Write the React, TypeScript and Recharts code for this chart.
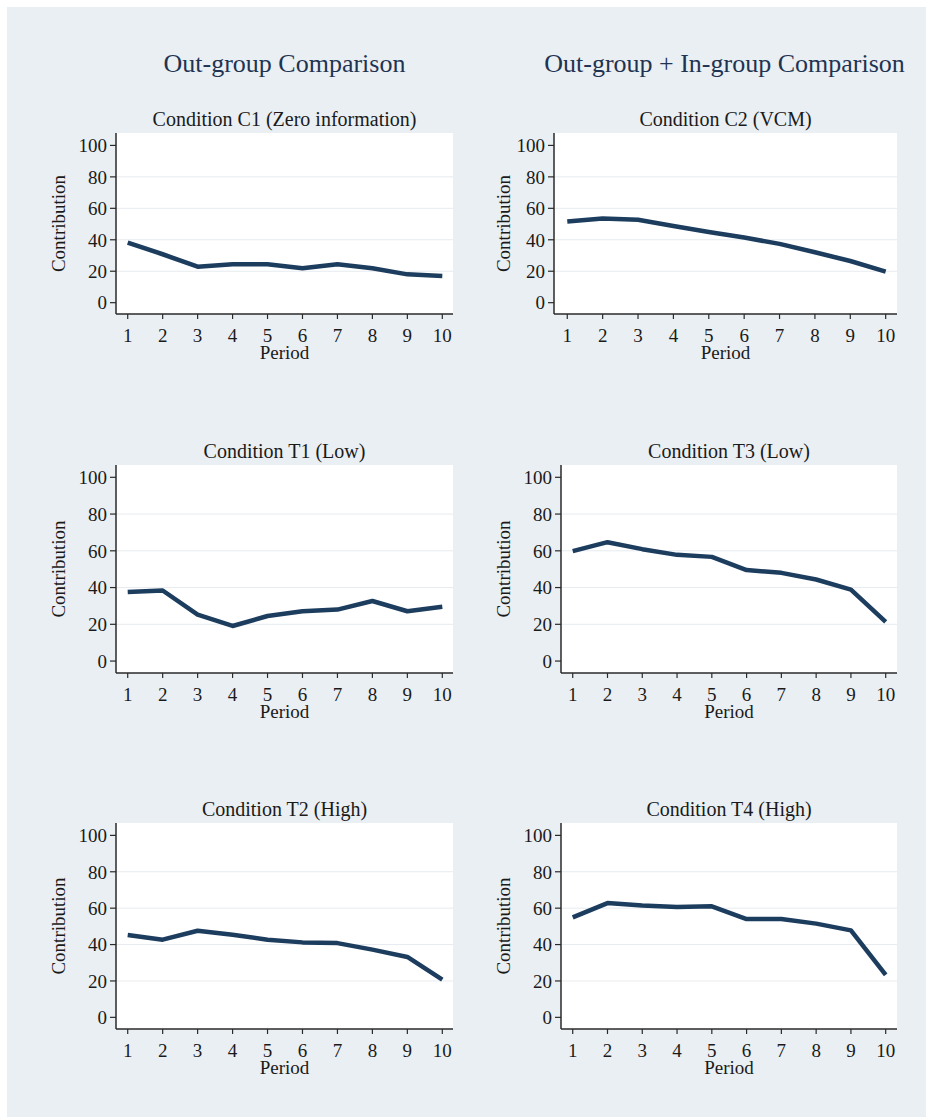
import React from 'react';
import { LineChart, Line, XAxis, YAxis, CartesianGrid, ReferenceLine } from 'recharts';

// Periods on the x axis
const periods = [1, 2, 3, 4, 5, 6, 7, 8, 9, 10];

// Mean contribution per period, by condition
const c1 = [38.2, 30.8, 22.9, 24.4, 24.4, 21.9, 24.4, 21.9, 18.0, 17.0];
const c2 = [51.6, 53.5, 52.7, 48.8, 45.0, 41.4, 37.4, 32.1, 26.5, 19.7];
const t1 = [37.6, 38.4, 25.3, 19.1, 24.5, 27.1, 28.0, 32.7, 27.1, 29.5];
const t3 = [59.8, 64.7, 60.9, 57.8, 56.7, 49.5, 48.0, 44.4, 38.9, 21.3];
const t2 = [45.2, 42.7, 47.6, 45.4, 42.7, 41.2, 40.8, 37.2, 33.2, 20.7];
const t4 = [54.9, 62.8, 61.4, 60.6, 61.0, 54.0, 54.0, 51.5, 47.8, 23.4];

// Axis ticks and titles
const yTicks = [0, 20, 40, 60, 80, 100];
const gridValues = [20, 40, 60, 80];
const columnTitles = ['Out-group Comparison', 'Out-group + In-group Comparison'];
const panelTitles = [
  'Condition C1 (Zero information)',
  'Condition C2 (VCM)',
  'Condition T1 (Low)',
  'Condition T3 (Low)',
  'Condition T2 (High)',
  'Condition T4 (High)',
];
const yTitle = 'Contribution';
const xTitle = 'Period';

const toRows = (values: number[]) => periods.map((p, i) => ({ period: p, value: values[i] }));

const FONT = "'Liberation Serif', 'Times New Roman', serif";
const LINE_COLOR = '#1d3d5f';
const AXIS_COLOR = '#2a2a2a';
const TEXT_COLOR = '#1a1a1a';

// Plot-area placement of each panel (left, top, width, height) and axis domains
const panels = [
  { values: c1, title: panelTitles[0], left: 116, top: 133, width: 337, height: 181, yLabelX: 65, xDomain: [0.665, 10.306], yDomain: [-7.2, 107.9] },
  { values: c2, title: panelTitles[1], left: 554, top: 133, width: 343, height: 181, yLabelX: 510, xDomain: [0.625, 10.32], yDomain: [-7.2, 107.9] },
  { values: t1, title: panelTitles[2], left: 116, top: 465, width: 337, height: 208, yLabelX: 65, xDomain: [0.665, 10.306], yDomain: [-6.5, 106.7] },
  { values: t3, title: panelTitles[3], left: 561, top: 465, width: 336, height: 208, yLabelX: 510, xDomain: [0.663, 10.325], yDomain: [-6.5, 106.7] },
  { values: t2, title: panelTitles[4], left: 116, top: 823, width: 337, height: 206, yLabelX: 65, xDomain: [0.665, 10.306], yDomain: [-6.4, 106.8] },
  { values: t4, title: panelTitles[5], left: 561, top: 823, width: 336, height: 206, yLabelX: 510, xDomain: [0.663, 10.325], yDomain: [-6.4, 106.8] },
];

const Y_AXIS_W = 100;
const M_TOP = 30;
const M_RIGHT = 20;
const X_AXIS_H = 70;

type PanelProps = (typeof panels)[number];

function Panel(p: PanelProps) {
  const chartLeft = p.left - Y_AXIS_W;
  const chartTop = p.top - M_TOP;
  const w = p.width + Y_AXIS_W + M_RIGHT;
  const h = p.height + M_TOP + X_AXIS_H;
  const yLabelLocalX = p.yLabelX - chartLeft;
  const yLabelLocalY = M_TOP + p.height / 2;
  const xLabelLocalX = Y_AXIS_W + p.width / 2;
  const xLabelLocalY = M_TOP + p.height + 45;

  return (
    <div style={{ position: 'absolute', left: chartLeft, top: chartTop, width: w, height: h }}>
      <LineChart
        width={w}
        height={h}
        data={toRows(p.values)}
        margin={{ top: M_TOP, right: M_RIGHT, left: 0, bottom: 0 }}
      >
        <CartesianGrid fill="#ffffff" horizontal={false} vertical={false} stroke="none" />
        {gridValues.map((g) => (
          <ReferenceLine key={g} y={g} stroke="#e7ebef" strokeWidth={1} ifOverflow="hidden" />
        ))}
        <XAxis
          dataKey="period"
          type="number"
          domain={p.xDomain}
          ticks={periods}
          allowDataOverflow
          height={X_AXIS_H}
          tickSize={5}
          tickMargin={10}
          interval={0}
          stroke={AXIS_COLOR}
          strokeWidth={1.5}
          tick={{ fill: TEXT_COLOR, fontSize: 19, fontFamily: FONT }}
          tickLine={{ stroke: AXIS_COLOR, strokeWidth: 1.2 }}
          label={() => (
            <text x={xLabelLocalX} y={xLabelLocalY} textAnchor="middle" fontSize={19} fontFamily={FONT} fill={TEXT_COLOR}>
              {xTitle}
            </text>
          )}
        />
        <YAxis
          type="number"
          domain={p.yDomain}
          ticks={yTicks}
          allowDataOverflow
          width={Y_AXIS_W}
          tickSize={6}
          tickMargin={3}
          interval={0}
          stroke={AXIS_COLOR}
          strokeWidth={1.5}
          tick={{ fill: TEXT_COLOR, fontSize: 19, fontFamily: FONT }}
          tickLine={{ stroke: AXIS_COLOR, strokeWidth: 1.2 }}
          label={() => (
            <text
              x={yLabelLocalX}
              y={yLabelLocalY}
              textAnchor="middle"
              fontSize={19}
              fontFamily={FONT}
              fill={TEXT_COLOR}
              transform={`rotate(-90 ${yLabelLocalX} ${yLabelLocalY})`}
            >
              {yTitle}
            </text>
          )}
        />
        <Line
          type="linear"
          dataKey="value"
          stroke={LINE_COLOR}
          strokeWidth={4.5}
          strokeLinejoin="round"
          dot={false}
          activeDot={false}
          isAnimationActive={false}
        />
      </LineChart>
    </div>
  );
}

export default function App() {
  return (
    <div style={{ position: 'absolute', left: 0, top: 0, width: 926, height: 1117, background: '#ffffff', overflow: 'hidden' }}>
      <div style={{ position: 'absolute', left: 7, top: 7, width: 919, height: 1110, background: '#eaeff3' }} />
      {panels.map((p, i) => (
        <Panel key={i} {...p} />
      ))}
      <svg width={926} height={1117} style={{ position: 'absolute', left: 0, top: 0, pointerEvents: 'none' }}>
        <text x={284.5} y={72} textAnchor="middle" fontSize={26} fontFamily={FONT} fill="#1f3452">
          {columnTitles[0]}
        </text>
        <text x={724.5} y={72} textAnchor="middle" fontSize={26} fontFamily={FONT} fill="#1f3452">
          {columnTitles[1]}
        </text>
        {panels.map((p, i) => (
          <text key={i} x={p.left + p.width / 2} y={p.top - 7.5} textAnchor="middle" fontSize={20} fontFamily={FONT} fill={TEXT_COLOR}>
            {p.title}
          </text>
        ))}
      </svg>
    </div>
  );
}
